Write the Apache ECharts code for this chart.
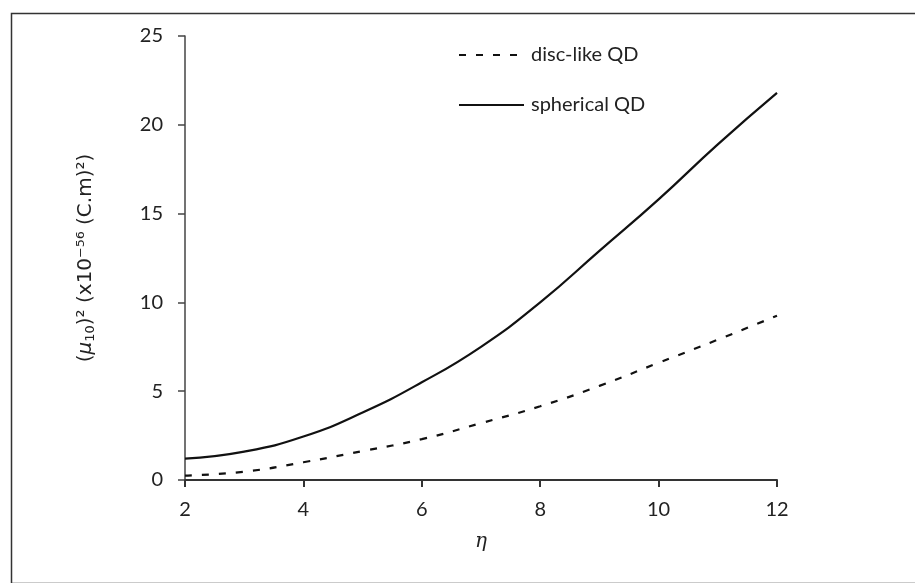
<!DOCTYPE html>
<html>
<head>
<meta charset="utf-8">
<script src="https://cdn.jsdelivr.net/npm/echarts@6/dist/echarts.min.js"></script>
<style>html,body{margin:0;padding:0;background:#fff;}#c{width:915px;height:583px;}</style>
</head>
<body>
<div id="c"></div>
<script>
const etaValues = [2, 3, 4, 5, 6, 7, 8, 9, 10, 11, 12];
const discLike = [0.25, 0.47, 1.0, 1.63, 2.3, 3.2, 4.15, 5.3, 6.6, 7.9, 9.25];
const spherical = [1.2, 1.6, 2.45, 3.8, 5.5, 7.5, 10.0, 12.9, 15.8, 18.9, 21.8];
const xTicks = [2, 4, 6, 8, 10, 12];
const yTicks = [0, 5, 10, 15, 20, 25];

const chart = echarts.init(document.getElementById('c'));
const labelFont = 'Lato, "Open Sans", sans-serif';
chart.setOption({
  animation: false,
  backgroundColor: '#fff',
  graphic: [{
    type: 'rect', left: 9, top: 11,
    shape: { width: 920, height: 570 },
    style: { fill: 'none', stroke: '#333', lineWidth: 1.5 }
  }],
  grid: { left: 185, right: 138, top: 36, bottom: 103 },
  legend: {
    orient: 'vertical', left: 453, top: 40,
    itemWidth: 65, itemHeight: 14, itemGap: 30,
    itemStyle: { opacity: 0 },
    textStyle: { fontFamily: labelFont, fontSize: 20, color: '#222', padding: [0, 0, 0, 2] },
    data: ['disc-like QD', 'spherical QD']
  },
  xAxis: {
    type: 'value', min: xTicks[0], max: xTicks[xTicks.length - 1], interval: 2,
    name: 'η', nameLocation: 'middle', nameGap: 52,
    nameTextStyle: { fontFamily: '"DejaVu Serif", serif', fontStyle: 'italic', fontSize: 20, color: '#222' },
    axisLine: { lineStyle: { color: '#333', width: 2 } },
    axisTick: { show: true, length: 7, lineStyle: { color: '#333', width: 2 } },
    axisLabel: { fontFamily: labelFont, fontSize: 20, color: '#222', margin: 20 },
    splitLine: { show: false }
  },
  yAxis: {
    type: 'value', min: yTicks[0], max: yTicks[yTicks.length - 1], interval: 5,
    name: '({i|μ}{s|10})² (x10⁻⁵⁶ (C.m)²)', nameLocation: 'middle', nameGap: 88, nameRotate: 90,
    nameTextStyle: {
      fontFamily: '"DejaVu Sans", sans-serif', fontSize: 20, color: '#222',
      rich: {
        i: { fontFamily: '"DejaVu Sans", sans-serif', fontStyle: 'italic', fontSize: 20, color: '#222' },
        s: { fontFamily: '"DejaVu Sans", sans-serif', fontSize: 13, color: '#222', padding: [9, 0, 0, 0] }
      }
    },
    axisLine: { show: true, lineStyle: { color: '#444', width: 1.5 } },
    axisTick: { show: true, length: 7, lineStyle: { color: '#444', width: 1.5 } },
    axisLabel: { fontFamily: labelFont, fontSize: 20, color: '#222', margin: 22 },
    splitLine: { show: false }
  },
  series: [
    {
      name: 'disc-like QD', type: 'line', smooth: true, symbol: 'none',
      data: etaValues.map((x, i) => [x, discLike[i]]),
      lineStyle: { color: '#111', width: 2.2, type: [7, 10] },
      itemStyle: { color: '#111' }
    },
    {
      name: 'spherical QD', type: 'line', smooth: true, symbol: 'none',
      data: etaValues.map((x, i) => [x, spherical[i]]),
      lineStyle: { color: '#111', width: 2.2 },
      itemStyle: { color: '#111' }
    }
  ]
});
</script>
</body>
</html>
